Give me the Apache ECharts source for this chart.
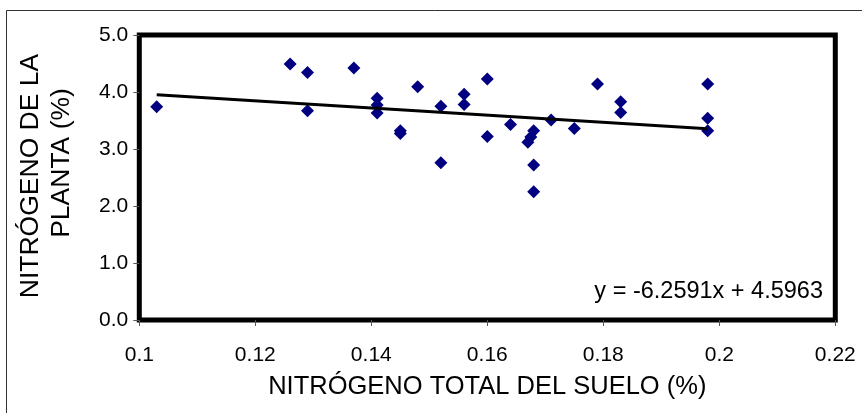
<!DOCTYPE html>
<html>
<head>
<meta charset="utf-8">
<script src="https://cdn.jsdelivr.net/npm/echarts@6/dist/echarts.min.js"></script>
<style>
  html, body { margin: 0; padding: 0; background: #fff; }
  #chart { width: 862px; height: 413px; }
</style>
</head>
<body>
<div id="chart"></div>
<script>
// Soil total nitrogen (%) vs. plant nitrogen (%)
const soilN = [0.103, 0.126, 0.129, 0.129, 0.137, 0.141, 0.141, 0.141, 0.145, 0.145,
               0.148, 0.152, 0.152, 0.156, 0.156, 0.160, 0.160, 0.164, 0.168, 0.1675,
               0.167, 0.168, 0.168, 0.171, 0.175, 0.179, 0.183, 0.183, 0.198, 0.198, 0.198];
const plantN = [3.74, 4.49, 4.34, 3.67, 4.42, 3.89, 3.77, 3.63, 3.32, 3.27,
                4.09, 3.75, 2.76, 3.96, 3.78, 4.23, 3.22, 3.43, 3.32, 3.21,
                3.12, 2.72, 2.25, 3.51, 3.36, 4.14, 3.83, 3.64, 4.14, 3.54, 3.32];

// Linear trend fitted to the data
const slope = -6.2591;
const intercept = 4.5963;

const xTickLabels = ['0.1', '0.12', '0.14', '0.16', '0.18', '0.2', '0.22'];
const yTickLabels = ['0.0', '1.0', '2.0', '3.0', '4.0', '5.0'];

const points = soilN.map((x, i) => [x, plantN[i]]);
const xMin = Math.min(...soilN);
const xMax = Math.max(...soilN);
const trend = [[xMin, slope * xMin + intercept], [xMax, slope * xMax + intercept]];
const eqText = 'y = ' + slope.toFixed(4) + 'x + ' + intercept.toFixed(4);

const FONT = 'Liberation Sans, Arial, sans-serif';

const chart = echarts.init(document.getElementById('chart'), null, { renderer: 'canvas' });
chart.setOption({
  animation: false,
  backgroundColor: '#fff',
  grid: {
    left: 139.3, right: 26.7, top: 35, bottom: 93,
    show: true, borderColor: '#000', borderWidth: 5, backgroundColor: '#fff'
  },
  xAxis: {
    type: 'value', min: 0.1, max: 0.22, interval: 0.02,
    axisLine: { show: false },
    axisTick: { show: true, inside: false, length: 6, lineStyle: { color: '#555', width: 1 } },
    splitLine: { show: false },
    axisLabel: {
      margin: 25, color: '#000', fontSize: 21, fontFamily: FONT,
      formatter: (v, i) => xTickLabels[i]
    },
    name: 'NITRÓGENO TOTAL DEL SUELO (%)',
    nameLocation: 'middle', nameGap: 54,
    nameTextStyle: { color: '#000', fontSize: 25.5, fontFamily: FONT }
  },
  yAxis: {
    type: 'value', min: 0, max: 5, interval: 1,
    axisLine: { show: false },
    axisTick: { show: true, inside: false, length: 6, lineStyle: { color: '#555', width: 1 } },
    splitLine: { show: false },
    axisLabel: {
      margin: 11, color: '#000', fontSize: 21, fontFamily: FONT,
      formatter: (v, i) => yTickLabels[i]
    }
  },
  graphic: [
    {
      type: 'rect', silent: true, z: -1,
      shape: { x: 6.5, y: 10.5, width: 900, height: 500 },
      style: { fill: 'none', stroke: '#333', lineWidth: 1 }
    },
    {
      type: 'text', x: 31, y: 176, rotation: Math.PI / 2,
      style: { text: 'NITRÓGENO DE LA', font: '26.5px ' + FONT, fill: '#000',
               textAlign: 'center', textVerticalAlign: 'middle' }
    },
    {
      type: 'text', x: 62, y: 163, rotation: Math.PI / 2,
      style: { text: 'PLANTA (%)', font: '26.5px ' + FONT, fill: '#000',
               textAlign: 'center', textVerticalAlign: 'middle' }
    },
    {
      type: 'text', x: 823, y: 292, z: 10,
      style: { text: eqText, font: '23.5px ' + FONT, fill: '#000',
               textAlign: 'right', textVerticalAlign: 'middle' }
    }
  ],
  series: [
    {
      type: 'scatter', data: points, symbol: 'diamond', symbolSize: 13,
      itemStyle: { color: '#000080', opacity: 1 }, z: 3
    },
    {
      type: 'line', data: trend, showSymbol: false, symbol: 'none',
      lineStyle: { color: '#000', width: 3 }, z: 4, silent: true
    }
  ]
});
</script>
</body>
</html>
